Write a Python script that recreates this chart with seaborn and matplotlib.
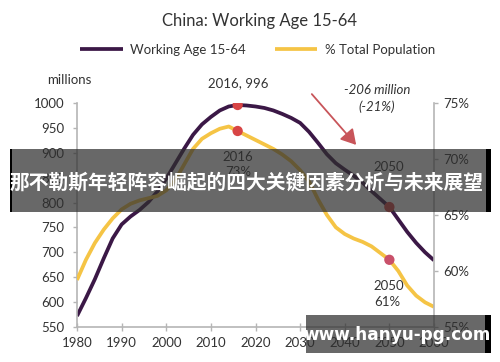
import matplotlib
matplotlib.use("Agg")
import matplotlib.pyplot as plt
from matplotlib.patches import Rectangle, FancyArrowPatch
import seaborn as sns
import pandas as pd

# ---------------- data ----------------
years = [1980, 1982, 1984, 1986, 1988, 1990, 1992, 1994, 1996, 1998, 2000,
         2002, 2004, 2006, 2008, 2010, 2012, 2014, 2016, 2018, 2020, 2022,
         2024, 2026, 2028, 2030, 2032, 2034, 2036, 2038, 2040, 2042, 2044,
         2046, 2048, 2050, 2052, 2054, 2056, 2058, 2060]
working_age = [572, 608, 646, 688, 728, 756, 772, 785, 801, 822, 848,
               878, 908, 936, 957, 972, 985, 993, 996, 995, 993, 990,
               985, 978, 970, 960, 942, 920, 897, 879, 866, 854, 840,
               823, 807, 791, 766, 741, 719, 700, 684]
pct_total = [59.2, 61.0, 62.5, 63.7, 64.7, 65.5, 66.0, 66.3, 66.5, 66.7, 67.2,
             68.1, 69.5, 70.9, 71.8, 72.3, 72.7, 72.9, 72.5, 72.1, 71.7, 71.3,
             70.9, 70.4, 69.8, 69.0, 68.0, 66.4, 65.0, 63.9, 63.3, 62.9, 62.6,
             62.2, 61.6, 61.0, 60.0, 58.7, 57.8, 57.2, 56.8]

highlight_years = [2016, 2050]
highlight_work = [996, 791]
highlight_pct = [72.5, 61.0]

series_names = ["Working Age 15-64", "% Total Population"]
title = "China: Working Age 15-64"
left_ticks = [550, 600, 650, 700, 750, 800, 850, 900, 950, 1000]
right_ticks = [55, 60, 65, 70, 75]
x_ticks = [1980, 1990, 2000, 2010, 2020, 2030, 2040, 2050, 2060]
banner_text = "那不勒斯年轻阵容崛起的四大关键因素分析与未来展望"
watermark_text = "www.hanyu-pg.com"

df = pd.DataFrame({"year": years, "work": working_age, "pct": pct_total})
hl = pd.DataFrame({"year": highlight_years, "work": highlight_work, "pct": highlight_pct})

# ---------------- style ----------------
sns.set_style("white")
plt.rcParams["font.family"] = ["Lato", "DejaVu Sans"]

PURPLE = "#3b1846"
YELLOW = "#f5c445"
RED = "#d84545"
GRID = "#b5b5b5"
TXT = "#333333"

fig = plt.figure(figsize=(5, 3.62), dpi=100)
ax = fig.add_axes([0.154, 0.0967, 0.714, 0.6188])
ax2 = ax.twinx()

sns.lineplot(data=df, x="year", y="work", ax=ax, color=PURPLE, linewidth=2.7,
             label=series_names[0], legend=False, solid_capstyle="butt",
             solid_joinstyle="round")
sns.lineplot(data=df, x="year", y="pct", ax=ax2, color=YELLOW, linewidth=2.7,
             label=series_names[1], legend=False, solid_capstyle="butt",
             solid_joinstyle="round")

sns.scatterplot(data=hl, x="year", y="work", ax=ax, color=RED, s=55,
                edgecolor="none", zorder=5, legend=False)
sns.scatterplot(data=hl, x="year", y="pct", ax=ax2, color=[RED, "#c9506a"], s=55,
                edgecolor="none", zorder=5, legend=False)

ax.set_xlim(1980, 2060)
ax.set_ylim(550, 1000)
ax2.set_ylim(55, 75)
ax.set_xticks(x_ticks)
ax.set_yticks(left_ticks)
ax2.set_yticks(right_ticks)
ax2.set_yticklabels([f"{v}%" for v in right_ticks])
ax.set_xlabel("")
ax.set_ylabel("")
ax2.set_ylabel("")

for a in (ax, ax2):
    for s in a.spines.values():
        s.set_visible(False)
ax.spines["left"].set_visible(True)
ax.spines["bottom"].set_visible(True)
ax2.spines["right"].set_visible(True)
for s in (ax.spines["left"], ax.spines["bottom"], ax2.spines["right"]):
    s.set_color(GRID)
    s.set_linewidth(1.2)

ax.tick_params(axis="y", left=True, direction="out", length=3, width=1, color=GRID,
               labelsize=9.5, labelcolor=TXT, pad=6)
ax.tick_params(axis="x", bottom=True, direction="inout", length=6, width=1, color=GRID,
               labelsize=9.5, labelcolor=TXT, pad=4)
ax2.tick_params(axis="y", right=True, direction="out", length=3, width=1, color=GRID,
                labelsize=9.5, labelcolor=TXT, pad=4)

# legend
h1, l1 = ax.get_legend_handles_labels()
h2, l2 = ax2.get_legend_handles_labels()
leg = ax.legend(h1 + h2, l1 + l2, loc="center", bbox_to_anchor=(0.507, 1.237),
                ncol=2, frameon=False, fontsize=9.5, handlelength=3.2,
                columnspacing=2.2, handletextpad=0.6)
for t in leg.get_texts():
    t.set_color(TXT)

fig.text(0.52, 1 - 21 / 362, title, ha="center", va="center", fontsize=12, color=TXT)
fig.text(69 / 500, 1 - 80 / 362, "millions", ha="center", va="center", fontsize=9.5, color=TXT)

# annotations
ax.annotate(f"{highlight_years[0]}, {highlight_work[0]}", xy=(238 / 500, 1 - 83 / 362),
            xycoords="figure fraction", ha="center", va="center", fontsize=9.5, color=TXT)
fig.text(377 / 500, 1 - 90 / 362, "-206 million", ha="center", va="center",
         fontsize=9.5, color=TXT, style="italic")
fig.text(377 / 500, 1 - 107 / 362, "(-21%)", ha="center", va="center",
         fontsize=9.5, color=TXT, style="italic")
arrow = FancyArrowPatch((310 / 500, 1 - 92 / 362), (358 / 500, 1 - 147 / 362),
                        transform=fig.transFigure, arrowstyle="-|>,head_length=6,head_width=3.5",
                        color="#c8555a", linewidth=1.3, mutation_scale=1.5)
fig.add_artist(arrow)
fig.text(238 / 500, 1 - 157 / 362, "2016", ha="center", va="center", fontsize=9.5, color=TXT)
fig.text(238 / 500, 1 - 172 / 362, "73%", ha="center", va="center", fontsize=9.5, color=TXT)
fig.text(389 / 500, 1 - 167 / 362, "2050", ha="center", va="center", fontsize=9.5, color=TXT)
fig.text(389 / 500, 1 - 286 / 362, "2050", ha="center", va="center", fontsize=9.5, color=TXT)
fig.text(387 / 500, 1 - 302 / 362, "61%", ha="center", va="center", fontsize=9.5, color=TXT)

# banner overlay
W, H = 500, 362
def frect(x0, y0, x1, y1, **kw):
    r = Rectangle((x0 / W, 1 - y1 / H), (x1 - x0) / W, (y1 - y0) / H,
                  transform=fig.transFigure, zorder=20, **kw)
    fig.add_artist(r)

frect(10, 149, 487, 212, facecolor="#2e2e2e", alpha=0.72, linewidth=0)
frect(10, 149, 12, 212, facecolor="black", linewidth=0)
frect(486, 149, 491, 212, facecolor="black", linewidth=0)
fig.text(246 / W, 1 - 183 / H, banner_text, ha="center", va="center", fontsize=14.2,
         color="white", fontweight="bold", family=["Noto Sans CJK SC", "DejaVu Sans"], zorder=21)

frect(306, 315, 486, 353, facecolor="#2e2e2e", alpha=0.72, linewidth=0)
frect(485, 315, 491, 353, facecolor="black", linewidth=0)
fig.text(397 / W, 1 - 335 / H, watermark_text, ha="center", va="center", fontsize=12.2,
         color="white", fontweight="bold", family=["DejaVu Sans"], zorder=21)

fig.savefig("out.png", dpi=100)
